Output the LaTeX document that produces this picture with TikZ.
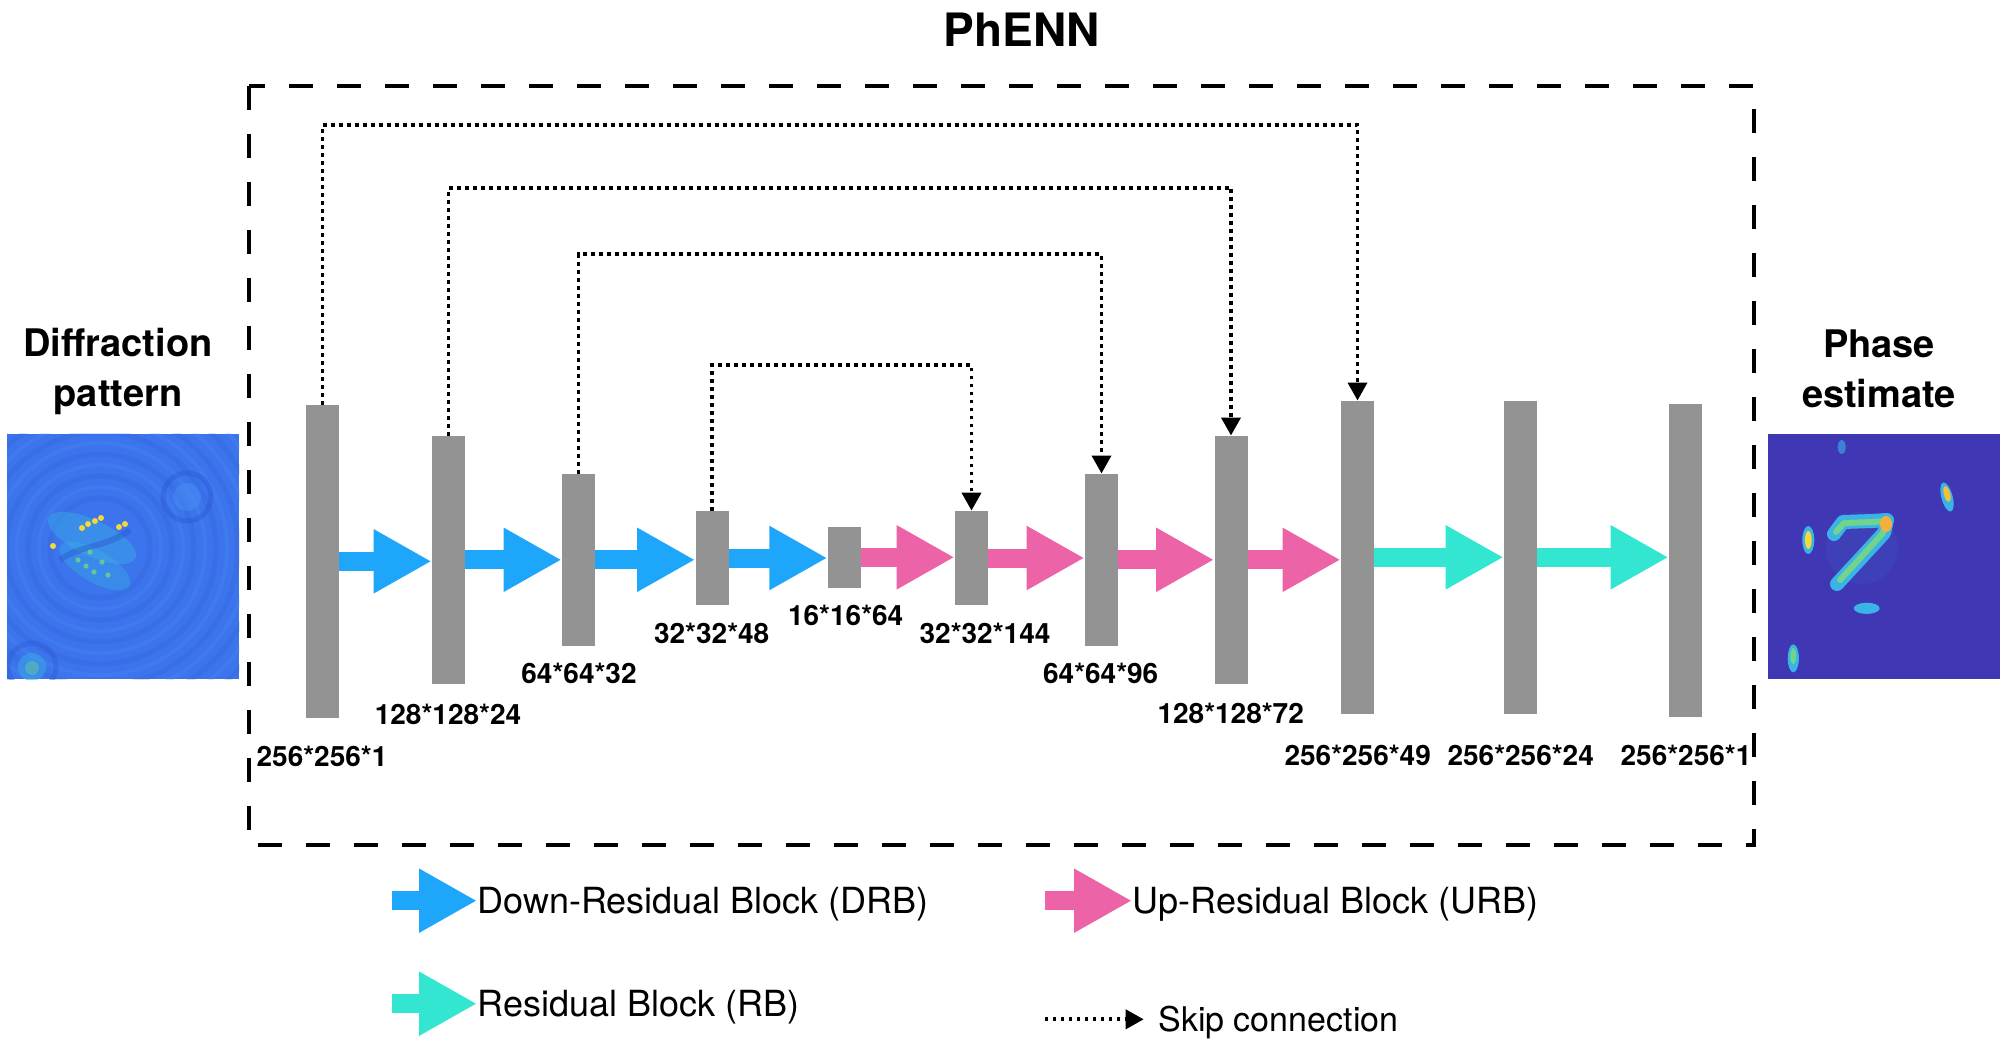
\documentclass[tikz,border=0pt]{standalone}
\usepackage{fontspec}
\setmainfont{TeX Gyre Heros}
\usetikzlibrary{arrows.meta,positioning,calc}

\definecolor{drbblue}{HTML}{1EA6FA}
\definecolor{urbpink}{HTML}{EC64A7}
\definecolor{rbteal}{HTML}{32E6D2}
\definecolor{fmapgray}{HTML}{939393}
\definecolor{diffblue}{HTML}{3B74EC}
\definecolor{diffdark}{HTML}{2B58D0}
\definecolor{difflight}{HTML}{4F92F6}
\definecolor{phasebg}{HTML}{3F37B4}
\definecolor{hotcyan}{HTML}{3AB4E6}
\definecolor{hotgreen}{HTML}{72D38A}
\definecolor{hotyellow}{HTML}{F2D83A}
\definecolor{hotorange}{HTML}{F4B03A}

\tikzset{
  fmap/.style={fill=fmapgray, inner sep=0pt, minimum width=16.5pt, minimum height=#1},
  block/.style={line width=9.5pt, -{Triangle[length=29pt,width=30pt]}},
  drb/.style={block, drbblue},
  urb/.style={block, urbpink},
  rb/.style={block, rbteal},
  skip/.style={line width=1.9pt, dash pattern=on 1.9pt off 2.1pt, -{Triangle[length=9pt,width=9.5pt]}},
  dimlbl/.style={font=\bfseries\fontsize{14}{16}\selectfont, inner sep=0pt},
  imgtitle/.style={font=\bfseries\fontsize{19}{25}\selectfont, align=center, inner sep=0pt, anchor=north},
  legtxt/.style={font=\fontsize{18}{20}\selectfont, inner sep=0pt, anchor=base west},
  picbox/.style={inner sep=0pt, minimum width=116pt, minimum height=122.35pt},
}

\begin{document}
\begin{tikzpicture}[x=0.5pt,y=-0.5pt]
\useasboundingbox (0,0) rectangle (2014,1060);

% network box
\node[font=\bfseries\fontsize{23}{27}\selectfont, inner sep=0pt] (phenn) at (1021.7,30) {PhENN};
\draw[line width=2pt, dash pattern=on 12pt off 12pt] (249,86) rectangle (1754,845);

% feature maps
\node[fmap=156.4pt] (b1) at (322.5,561.3) {};
\node[fmap=123.9pt] (b2) at (448.5,559.8) {};
\node[fmap=85.9pt] (b3) at (578.5,559.8) {};
\node[fmap=47pt] (b4) at (712,558) {};
\node[fmap=30.4pt] (b5) at (844.3,557.3) {};
\node[fmap=47pt] (b6) at (971.5,558) {};
\node[fmap=85.9pt] (b7) at (1101.5,559.8) {};
\node[fmap=123.9pt] (b8) at (1231,559.8) {};
\node[fmap=156.4pt] (b9) at (1357.5,557.3) {};
\node[fmap=156.4pt] (b10) at (1520.5,557.3) {};
\node[fmap=156.4pt] (b11) at (1685.5,560.3) {};

\node[dimlbl] (l1) at (322,756) {256*256*1};
\node[dimlbl] (l2) at (448,714) {128*128*24};
\node[dimlbl] (l3) at (579,673) {64*64*32};
\node[dimlbl] (l4) at (711.7,633) {32*32*48};
\node[dimlbl] (l5) at (845.7,615) {16*16*64};
\node[dimlbl] (l6) at (985,633) {32*32*144};
\node[dimlbl] (l7) at (1100.7,673) {64*64*96};
\node[dimlbl] (l8) at (1230.7,713) {128*128*72};
\node[dimlbl] (l9) at (1357.7,755) {256*256*49};
\node[dimlbl] (l10) at (1520.7,755) {256*256*24};
\node[dimlbl] (l11) at (1686,755) {256*256*1};

\draw[drb] (b1.east) -- (b1.east -| b2.west);
\draw[drb] (b2.east) -- (b2.east -| b3.west);
\draw[drb] (b3.east) -- (b3.east -| b4.west);
\draw[drb] (b4.east) -- (b4.east -| b5.west);
\draw[urb] (b5.east) -- (b5.east -| b6.west);
\draw[urb] (b6.east) -- (b6.east -| b7.west);
\draw[urb] (b7.east) -- (b7.east -| b8.west);
\draw[urb] (b8.east) -- (b8.east -| b9.west);
\draw[rb] (b9.east) -- (b9.east -| b10.west);
\draw[rb] (b10.east) -- (b10.east -| b11.west);

% skip connections
\coordinate (s1) at (0,125);
\coordinate (s2) at (0,187.7);
\coordinate (s3) at (0,254.3);
\coordinate (s4) at (0,364.8);
\draw[skip] (b1.north) -- (b1.north |- s1) -| (b9.north);
\draw[skip] (b2.north) -- (b2.north |- s2) -| (b8.north);
\draw[skip] (b3.north) -- (b3.north |- s3) -| (b7.north);
\draw[skip] (b4.north) -- (b4.north |- s4) -| (b6.north);

% input
\node[imgtitle] (intitle) at (118,328) {Diffraction\\pattern};
\node[picbox, fill=diffblue] (diffimg) at (123.3,556.65) {};
\begin{scope}
\clip (diffimg.south west) rectangle (diffimg.north east);
\foreach \r in {50,72,94,116,138,160,184,208,232}
  \draw[diffdark, line width=2.5pt, opacity=.18] (100,548) circle[radius=\r*0.5pt];
\foreach \r in {61,83,105,127,149,172,196,220}
  \draw[difflight, line width=2pt, opacity=.2] (100,548) circle[radius=\r*0.5pt];
\draw[diffdark, line width=2.5pt, opacity=.4] (187,497) circle[radius=12pt];
\fill[difflight, opacity=.4] (187,497) circle[radius=7pt];
\draw[diffdark, line width=2.5pt, opacity=.35] (32,667) circle[radius=12pt];
\fill[hotcyan, opacity=.45] (32,667) circle[radius=7pt];
\fill[hotgreen, opacity=.4] (32,668) circle[radius=3.5pt];
\fill[hotcyan, opacity=.4, rotate around={-25:(92,538)}] (92,538) ellipse[x radius=24pt, y radius=9pt];
\fill[hotcyan, opacity=.35, rotate around={-30:(95,566)}] (95,566) ellipse[x radius=20pt, y radius=8pt];
\draw[diffdark, line width=3pt, opacity=.45] (60,560) .. controls (80,545) and (105,548) .. (130,530);
\foreach \p in {(82,528),(88,524),(95,521),(101,518),(119,527),(125,524),(53,546)}
  \fill[hotyellow] \p circle[radius=1.5pt];
\foreach \p in {(78,560),(86,566),(94,572),(102,562),(90,552),(108,575)}
  \fill[hotgreen, opacity=.8] \p circle[radius=1.3pt];
\end{scope}

% output
\node[imgtitle] (outtitle) at (1879,329) {Phase\\estimate};
\node[picbox, fill=phasebg] (phaseimg) at (1884.15,556.65) {};
\begin{scope}
\clip (phaseimg.south west) rectangle (phaseimg.north east);
\fill[hotcyan, opacity=.08] (1862,548) ellipse[x radius=18pt, y radius=18pt];
\draw[hotcyan, line width=7pt, line cap=round, line join=round]
  (1834,534) -- (1843,522) -- (1872,521) -- (1887,520) -- (1884,533) -- (1837,584);
\draw[hotgreen, line width=3pt, line cap=round, line join=round]
  (1836,532) -- (1844,523) -- (1872,522) -- (1886,521) -- (1883,533) -- (1840,580);
\fill[hotorange] (1886,524) ellipse[x radius=3pt, y radius=4pt];
\fill[hotcyan] (1808.3,540) ellipse[x radius=3pt, y radius=7pt];
\fill[hotyellow] (1808.3,540) ellipse[x radius=1.7pt, y radius=4.5pt];
\fill[hotcyan, rotate around={15:(1947,497)}] (1947,497) ellipse[x radius=2.8pt, y radius=7.5pt];
\fill[hotorange!60!hotyellow, rotate around={15:(1947,494)}] (1947,494) ellipse[x radius=1.6pt, y radius=4pt];
\fill[hotcyan] (1866.7,608.3) ellipse[x radius=6.5pt, y radius=2.8pt];
\fill[hotcyan] (1793.3,658.3) ellipse[x radius=2.8pt, y radius=7pt];
\fill[hotgreen] (1793.3,656) ellipse[x radius=1.5pt, y radius=4pt];
\fill[hotcyan, opacity=.6] (1841.7,447) ellipse[x radius=2pt, y radius=3.5pt];
\end{scope}

% legend
\coordinate (kdrbs) at (392.3,900.7);
\node[legtxt] (kdrb) at (477,913.3) {Down-Residual Block (DRB)};
\draw[drb] (kdrbs) -- (kdrbs -| kdrb.west);
\coordinate (kurbs) at (1045.3,900.7);
\node[legtxt] (kurb) at (1132,913.3) {Up-Residual Block (URB)};
\draw[urb] (kurbs) -- (kurbs -| kurb.west);
\coordinate (krbs) at (392.3,1003.7);
\node[legtxt] (krb) at (477,1016.7) {Residual Block (RB)};
\draw[rb] (krbs) -- (krbs -| krb.west);
\coordinate (kskips) at (1044.5,1019.3);
\coordinate (kskipe) at (1143.7,1019.3);
\node[legtxt, font=\fontsize{17}{20}\selectfont] (kskip) at (1158,1031.5) {Skip connection};
\draw[skip] (kskips) -- (kskipe);
\end{tikzpicture}
\end{document}
